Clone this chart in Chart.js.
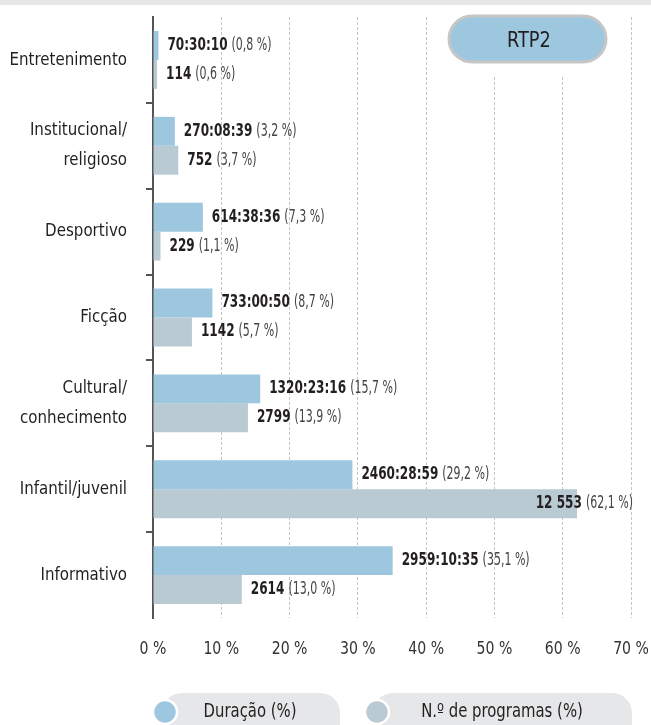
<!DOCTYPE html>
<html>
<head>
<meta charset="utf-8">
<script src="https://cdn.jsdelivr.net/npm/chart.js@4/dist/chart.umd.min.js"></script>
<style>
  html, body { margin: 0; padding: 0; background: #fff; }
  #wrap { width: 651px; height: 725px; }
</style>
</head>
<body>
<div id="wrap"><canvas id="chart" width="651" height="725"></canvas></div>
<script>
// data
const categories = [
    ['Entretenimento'],
    ['Institucional/', 'religioso'],
    ['Desportivo'],
    ['Ficção'],
    ['Cultural/', 'conhecimento'],
    ['Infantil/juvenil'],
    ['Informativo']
];
const durationPct = [0.8, 3.2, 7.3, 8.7, 15.7, 29.2, 35.1];
const durationText = ['70:30:10', '270:08:39', '614:38:36', '733:00:50', '1320:23:16', '2460:28:59', '2959:10:35'];
const programsPct = [0.6, 3.7, 1.1, 5.7, 13.9, 62.1, 13.0];
const programsText = ['114', '752', '229', '1142', '2799', '12 553', '2614'];
const xTicks = [0, 10, 20, 30, 40, 50, 60, 70];
const seriesNames = ['Duração (%)', 'N.º de programas (%)'];

const FONT = '"DejaVu Sans Condensed", "DejaVu Sans", sans-serif';
const BLUE = '#9dc7df';
const GREY = '#b9cad2';
const PANEL = '#e6e7e8';
const INK = '#231f20';

const pctText = v => v.toFixed(1).replace('.', ',') + ' %';

// the original face is a narrow DIN, so squeeze text horizontally
const squeezed = (ctx, text, x, y, font, sx, align, color) => {
    ctx.save();
    ctx.font = font;
    ctx.fillStyle = color;
    ctx.textAlign = align;
    ctx.textBaseline = 'middle';
    ctx.translate(x, y);
    ctx.scale(sx, 1);
    ctx.fillText(text, 0, 0);
    ctx.restore();
};
const squeezedWidth = (ctx, text, font, sx) => {
    ctx.save();
    ctx.font = font;
    const w = ctx.measureText(text).width * sx;
    ctx.restore();
    return w;
};

// value labels: bold figure + lighter percentage in brackets
const valueLabels = {
    id: 'valueLabels',
    afterDatasetsDraw(chart) {
        const ctx = chart.ctx;
        const right = 633;
        const texts = [durationText, programsText];
        const boldFont = 'bold 17px ' + FONT;
        const lightFont = '17px ' + FONT;
        chart.data.datasets.forEach((ds, di) => {
            chart.getDatasetMeta(di).data.forEach((bar, i) => {
                const strong = texts[di][i];
                const light = '(' + pctText(ds.data[i]) + ')';
                const w1 = squeezedWidth(ctx, strong, boldFont, 0.79);
                const w2 = squeezedWidth(ctx, light, lightFont, 0.72);
                const gap = 4;
                let x = bar.x + 9;
                if (x + w1 + gap + w2 > right) x = right - w1 - gap - w2;
                squeezed(ctx, strong, x, bar.y, boldFont, 0.79, 'left', INK);
                squeezed(ctx, light, x + w1 + gap, bar.y, lightFont, 0.72, 'left', '#444');
            });
        });
    }
};

// top band, channel badge, axis labels, category ticks, legend
const decorations = {
    id: 'decorations',
    beforeDraw(chart) {
        const ctx = chart.ctx;
        ctx.save();
        ctx.fillStyle = PANEL;
        ctx.fillRect(0, 0, chart.width, 5);
        ctx.restore();
    },
    beforeDatasetsDraw(chart) {
        const ctx = chart.ctx;
        const area = chart.chartArea;
        const xs = chart.scales.x;
        const ys = chart.scales.y;
        ctx.save();
        // badge hides the gridlines behind it
        ctx.fillStyle = '#fff';
        ctx.fillRect(440, 6, 176, 71);
        ctx.beginPath();
        ctx.roundRect(449, 16, 157, 46, 23);
        ctx.fillStyle = BLUE;
        ctx.fill();
        ctx.lineWidth = 3;
        ctx.strokeStyle = '#c6c6c6';
        ctx.stroke();
        ctx.restore();
        squeezed(ctx, 'RTP2', 529, 41, '22px ' + FONT, 0.9, 'center', INK);

        // short ticks between categories
        const band = (area.bottom - area.top) / categories.length;
        ctx.save();
        ctx.strokeStyle = '#555';
        ctx.lineWidth = 2;
        for (let i = 1; i < categories.length; i++) {
            const y = Math.round(area.top + i * band);
            ctx.beginPath();
            ctx.moveTo(area.left - 7, y);
            ctx.lineTo(area.left, y);
            ctx.stroke();
        }
        ctx.restore();

        // category labels
        categories.forEach((lines, i) => {
            const yc = ys.getPixelForValue(i);
            lines.forEach((line, j) => {
                const y = yc + (j - (lines.length - 1) / 2) * 30;
                squeezed(ctx, line, 127, y, '18px ' + FONT, 0.93, 'right', INK);
            });
        });

        // x tick labels
        xTicks.forEach(v => {
            squeezed(ctx, v + ' %', xs.getPixelForValue(v), 650, '17px ' + FONT, 0.92, 'center', '#333');
        });
    },
    afterDraw(chart) {
        const ctx = chart.ctx;
        const items = [
            { x0: 162, x1: 340, cx: 165, tx: 250, color: BLUE },
            { x0: 373, x1: 632, cx: 377, tx: 502, color: GREY }
        ];
        items.forEach((it, i) => {
            ctx.save();
            ctx.beginPath();
            ctx.roundRect(it.x0, 693, it.x1 - it.x0, 50, 20);
            ctx.fillStyle = PANEL;
            ctx.fill();
            ctx.beginPath();
            ctx.arc(it.cx, 712, 12, 0, Math.PI * 2);
            ctx.fillStyle = it.color;
            ctx.fill();
            ctx.lineWidth = 2.5;
            ctx.strokeStyle = '#fff';
            ctx.stroke();
            ctx.restore();
            squeezed(ctx, seriesNames[i], it.tx, 712, '19px ' + FONT, 0.87, 'center', INK);
        });
    }
};

new Chart(document.getElementById('chart'), {
    type: 'bar',
    data: {
        labels: categories,
        datasets: [
            { label: seriesNames[0], data: durationPct, backgroundColor: BLUE },
            { label: seriesNames[1], data: programsPct, backgroundColor: GREY }
        ]
    },
    options: {
        indexAxis: 'y',
        responsive: false,
        animation: false,
        events: [],
        layout: { padding: { top: 17, right: 20, left: 0, bottom: 0 } },
        datasets: { bar: { categoryPercentage: 0.674, barPercentage: 1 } },
        plugins: {
            legend: { display: false },
            tooltip: { enabled: false }
        },
        scales: {
            x: {
                min: 0,
                max: 70,
                afterBuildTicks: scale => { scale.ticks = xTicks.map(v => ({ value: v })); },
                afterFit: scale => { scale.height = 107; },
                border: { display: false, dash: [3, 2] },
                grid: {
                    drawTicks: false,
                    color: c => c.index === 0 ? 'transparent' : '#c4c4c4',
                    lineWidth: 1
                },
                ticks: { display: false }
            },
            y: {
                afterFit: scale => { scale.width = 153; },
                border: { display: true, color: '#555', width: 2 },
                grid: { display: false },
                ticks: { display: false }
            }
        }
    },
    plugins: [decorations, valueLabels]
});
</script>
</body>
</html>
